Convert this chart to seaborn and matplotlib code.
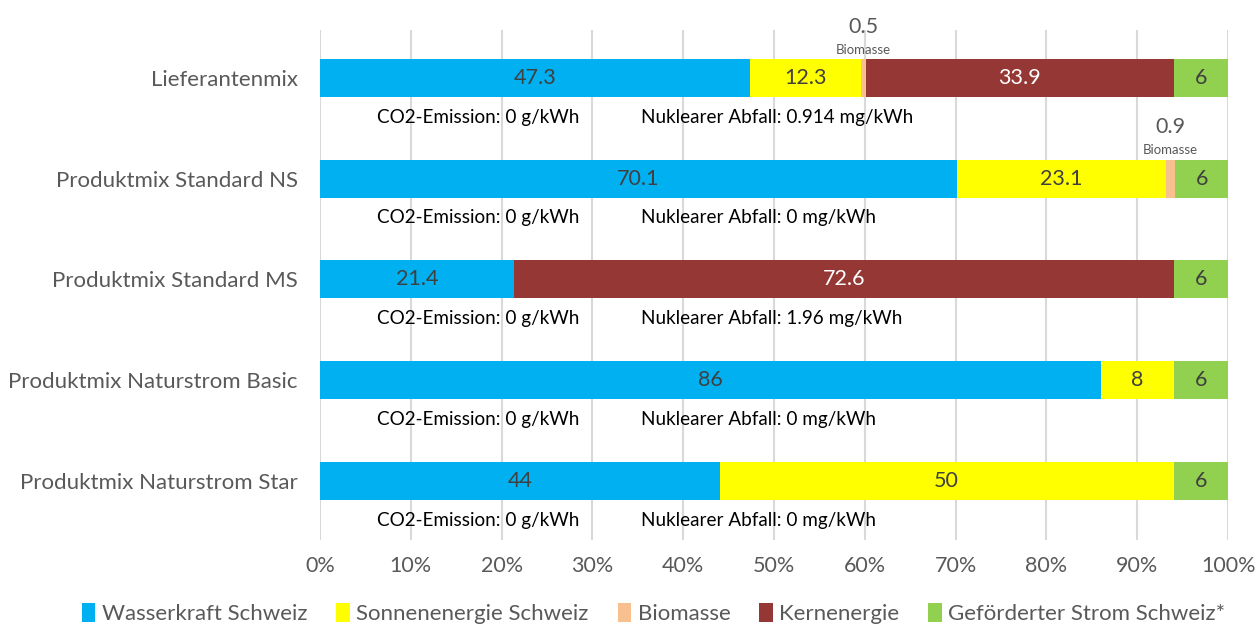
import numpy as np
import pandas as pd
import matplotlib
matplotlib.use("Agg")
import matplotlib.pyplot as plt
import seaborn as sns
from matplotlib.patches import Patch

categories = ["Lieferantenmix", "Produktmix Standard NS", "Produktmix Standard MS",
              "Produktmix Naturstrom Basic", "Produktmix Naturstrom Star"]
series = ["Wasserkraft Schweiz", "Sonnenenergie Schweiz", "Biomasse", "Kernenergie",
          "Geförderter Strom Schweiz*"]
wasser = [47.3, 70.1, 21.4, 86, 44]
sonne = [12.3, 23.1, 0, 8, 50]
biomasse = [0.5, 0.9, 0, 0, 0]
kern = [33.9, 0, 72.6, 0, 0]
gefoerdert = [6, 6, 6, 6, 6]
co2 = ["0 g/kWh"] * 5
abfall = ["0.914 mg/kWh", "0 mg/kWh", "1.96 mg/kWh", "0 mg/kWh", "0 mg/kWh"]

colors = ["#00B0F0", "#FFFF00", "#F8C08E", "#953735", "#92D050"]
label_colors = ["#404040", "#404040", "#404040", "white", "#404040"]

sns.set_style("white")
plt.rcParams['font.family'] = ['Lato', 'DejaVu Sans']

df = pd.DataFrame({"Kategorie": categories, series[0]: wasser, series[1]: sonne,
                   series[2]: biomasse, series[3]: kern, series[4]: gefoerdert})
vals = df[series].to_numpy()
cum = vals.cumsum(axis=1)

fig = plt.figure(figsize=(12.57, 6.24), dpi=100)
ax = fig.add_axes([0.2546, 0.135, 0.7224, 0.817])

# stacked bars: draw cumulative totals from the back to the front
for i in range(len(series) - 1, -1, -1):
    d = pd.DataFrame({"Kategorie": categories, "v": cum[:, i]})
    sns.barplot(data=d, x="v", y="Kategorie", orient="h", color=colors[i],
                saturation=1, width=0.375, ax=ax, linewidth=0)

for r in range(len(categories)):
    for i in range(len(series)):
        v = vals[r, i]
        if v <= 0:
            continue
        mid = cum[r, i] - v / 2
        if series[i] == "Biomasse":
            ax.text(mid, r - 0.28, "Biomasse", ha="center", va="center", fontsize=9.5,
                    color="#595959")
            ax.text(mid, r - 0.51, f"{v:g}", ha="center", va="center", fontsize=15.5,
                    color="#595959")
        else:
            ax.text(mid, r, f"{v:g}", ha="center", va="center", fontsize=15.5,
                    color=label_colors[i])
    ax.text(6.3, r + 0.39, f"CO2-Emission: {co2[r]}", ha="left", va="center",
            fontsize=13.6, color="black")
    ax.text(35.3, r + 0.39, f"Nuklearer Abfall: {abfall[r]}", ha="left", va="center",
            fontsize=13.6, color="black")

ax.set_xlim(0, 100)
ax.set_ylim(4.585, -0.476)
ax.set_xticks(np.arange(0, 101, 10))
ax.set_xticklabels([f"{t}%" for t in range(0, 101, 10)])
ax.xaxis.grid(True, color="#D9D9D9", linewidth=1.5)
ax.set_axisbelow(True)
for s in ax.spines.values():
    s.set_visible(False)
ax.set_xlabel("")
ax.set_ylabel("")
ax.tick_params(axis="both", length=0, labelsize=15.5, colors="#595959")
ax.tick_params(axis="y", pad=16, labelsize=16)
ax.tick_params(axis="x", pad=12)

handles = [Patch(facecolor=c, edgecolor="none") for c in colors]
fig.legend(handles, series, loc="lower center", bbox_to_anchor=(0.52, -0.032), ncol=5,
           frameon=False, fontsize=16, handlelength=0.6, handleheight=0.9,
           handletextpad=0.3, columnspacing=1.3, labelcolor="#595959")

fig.savefig("out.png", dpi=100)
